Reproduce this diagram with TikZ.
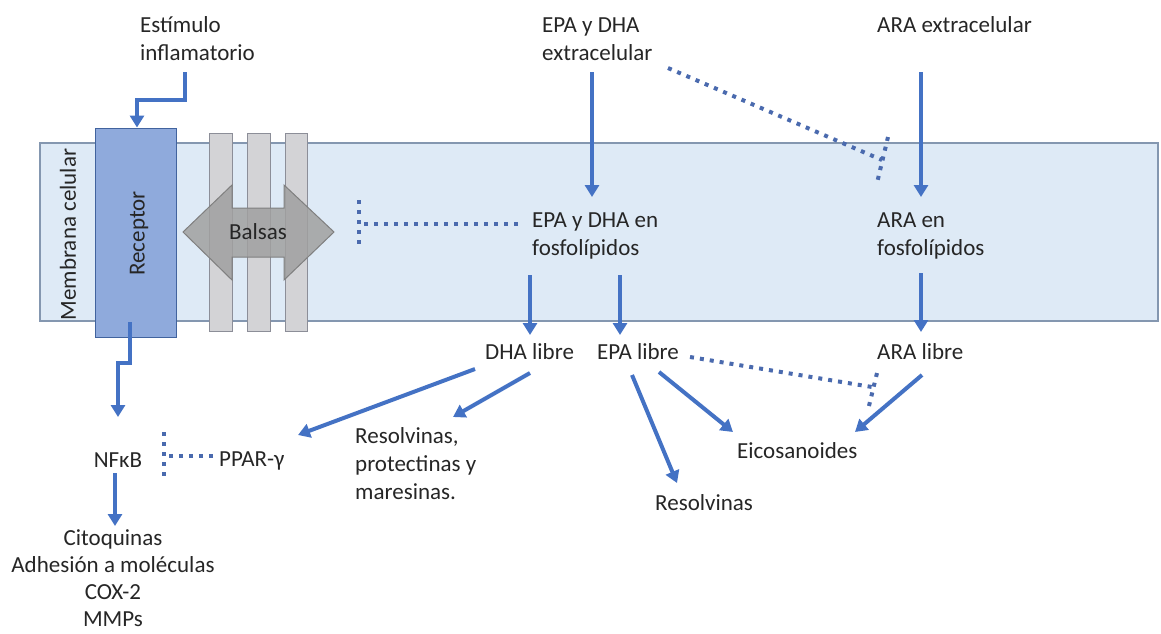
\documentclass[tikz,border=0pt]{standalone}
\usepackage{fontspec}
\setmainfont{Carlito}
\usetikzlibrary{arrows.meta}
\definecolor{arrowblue}{HTML}{4472C4}
\definecolor{dotblue}{HTML}{4A6AAE}
\definecolor{membfill}{HTML}{DEEAF6}
\definecolor{membline}{HTML}{8497B0}
\definecolor{recfill}{HTML}{8FAADC}
\definecolor{recline}{HTML}{41639E}
\definecolor{barfill}{HTML}{D3D3D6}
\definecolor{barline}{HTML}{8C8E98}
\definecolor{raftfill}{HTML}{A0A0A0}
\definecolor{raftline}{HTML}{7F7F7F}
\definecolor{txt}{HTML}{262626}

\begin{document}
\begin{tikzpicture}[x=1pt,y=-1pt,
  lbl/.style={font=\fontsize{23}{28}\selectfont, text=txt, inner sep=0pt},
  flow/.style={draw=arrowblue, line width=4pt, line join=miter,
               -{Triangle[width=14pt,length=12pt]}},
  block/.style={draw=dotblue, line width=4pt, dash pattern=on 4pt off 6pt},
  membrane/.style={fill=membfill, draw=membline, line width=1.2pt},
  raftbar/.style={fill=barfill, draw=barline, line width=1pt},
  receptor/.style={fill=recfill, draw=recline, line width=1pt,
                   minimum width=81pt, minimum height=209pt, inner sep=0pt},
]
\useasboundingbox (0,0) rectangle (1161,633);

% cell membrane band
\draw[membrane] (40,143) rectangle (1158,321);
\node[lbl, rotate=90] (memb) at (68,234.5) {Membrana celular};

% lipid raft bars and the double arrow across them
\draw[raftbar] (209,133) rectangle (232,331);
\draw[raftbar] (247,133) rectangle (270,331);
\draw[raftbar] (285,133) rectangle (307,331);
\draw[fill=raftfill, fill opacity=0.85, draw=raftline, line width=1pt]
  (183,232) -- (232,185) -- (232,208) -- (284,208) -- (284,185) -- (334,232)
  -- (284,280) -- (284,257) -- (232,257) -- (232,280) -- cycle;
\node[lbl] (balsas) at (258,232) {Balsas};

% receptor
\node[receptor] (rec) at (135.5,232.5) {};
\node[lbl, rotate=90] (reclbl) at (139,233.5) {Receptor};

% text labels
\node[lbl, anchor=west, align=left] (estim) at (140,38.8) {Estímulo\\inflamatorio};
\node[lbl, anchor=west, align=left] (epaext) at (542,39) {EPA y DHA\\extracelular};
\node[lbl, anchor=base west] (araext) at (877,32) {ARA extracelular};
\node[lbl, anchor=west, align=left] (epafos) at (532,236) {EPA y DHA en\\fosfolípidos};
\node[lbl, anchor=west, align=left] (arafos) at (877,236) {ARA en\\fosfolípidos};
\node[lbl, anchor=base west] (dha) at (485,359) {DHA libre};
\node[lbl, anchor=base west] (epa) at (597,359) {EPA libre};
\node[lbl, anchor=base west] (ara) at (877,359) {ARA libre};
\node[lbl, anchor=base west] (eico) at (737,458) {Eicosanoides};
\node[lbl, anchor=base west] (resol) at (655,510) {Resolvinas};
\node[lbl, anchor=west, align=left] (rpm) at (355,463.7) {Resolvinas,\\protectinas y\\maresinas.};
\node[lbl, anchor=base] (nfkb) at (118,467) {NF\symbol{"03BA}B};
\node[lbl, anchor=base west] (ppar) at (219,466) {PPAR-\symbol{"03B3}};
\node[lbl, font=\fontsize{23}{27}\selectfont, align=center] (genes) at (113,578)
  {Citoquinas\\Adhesión a moléculas\\COX-2\\MMPs};

% connector end points
\coordinate (stimA) at (185,72);
\coordinate (stimB) at (137,100);
\coordinate (recOut) at (130,322);
\coordinate (recJog) at (118,363);
\coordinate (nfkbIn) at (118,417);
\coordinate (nfkbOut) at (115,473);
\coordinate (genesIn) at (115,526);
\coordinate (epaExtOut) at (592,72);
\coordinate (epaFosIn) at (592,197);
\coordinate (araExtOut) at (921,72);
\coordinate (araFosIn) at (921,197);
\coordinate (dhaFosOut) at (530,275);
\coordinate (dhaIn) at (530,335);
\coordinate (epaFosOut) at (620,275);
\coordinate (epaIn) at (620,335);
\coordinate (araFosOut) at (921,273);
\coordinate (araIn) at (921,332);
\coordinate (dhaOutA) at (475,369);
\coordinate (pparIn) at (298,435);
\coordinate (dhaOutB) at (530,373);
\coordinate (rpmIn) at (453,417);
\coordinate (epaOutA) at (632,375);
\coordinate (resolIn) at (677,483);
\coordinate (epaOutB) at (659,372);
\coordinate (eicoInA) at (733,432);
\coordinate (araOut) at (922,375);
\coordinate (eicoInB) at (855,432);

% activating arrows
\draw[flow] (stimA) |- (stimB) -- (stimB |- rec.north);
\draw[flow] (recOut) |- (recJog) -- (nfkbIn);
\draw[flow] (nfkbOut) -- (genesIn);
\draw[flow] (epaExtOut) -- (epaFosIn);
\draw[flow] (araExtOut) -- (araFosIn);
\draw[flow] (dhaFosOut) -- (dhaIn);
\draw[flow] (epaFosOut) -- (epaIn);
\draw[flow] (araFosOut) -- (araIn);
\draw[flow] (dhaOutA) -- (pparIn);
\draw[flow] (dhaOutB) -- (rpmIn);
\draw[flow] (epaOutA) -- (resolIn);
\draw[flow] (epaOutB) -- (eicoInA);
\draw[flow] (araOut) -- (eicoInB);

% inhibition lines (dotted, ending in a bar)
\coordinate (epaFosInh) at (518,224);
\coordinate (raftInh) at (359,224);
\coordinate (raftBarA) at (359,200);
\coordinate (raftBarB) at (359,248);
\draw[block] (epaFosInh) -- (raftInh);
\draw[block] (raftBarA) -- (raftBarB);

\coordinate (epaExtInh) at (668,68);
\coordinate (araUptake) at (882,160);
\coordinate (araBarA) at (888,137);
\coordinate (araBarB) at (877,183);
\draw[block] (epaExtInh) -- (araUptake);
\draw[block] (araBarA) -- (araBarB);

\coordinate (epaInh) at (690,357);
\coordinate (eicoBlock) at (872,387);
\coordinate (eicoBarA) at (877,373);
\coordinate (eicoBarB) at (868,410);
\draw[block] (epaInh) -- (eicoBlock);
\draw[block] (eicoBarA) -- (eicoBarB);

\coordinate (pparInh) at (213,456);
\coordinate (nfkbBlock) at (164,456);
\coordinate (nfkbBarA) at (164,432);
\coordinate (nfkbBarB) at (164,480);
\draw[block] (pparInh) -- (nfkbBlock);
\draw[block] (nfkbBarA) -- (nfkbBarB);
\end{tikzpicture}
\end{document}
